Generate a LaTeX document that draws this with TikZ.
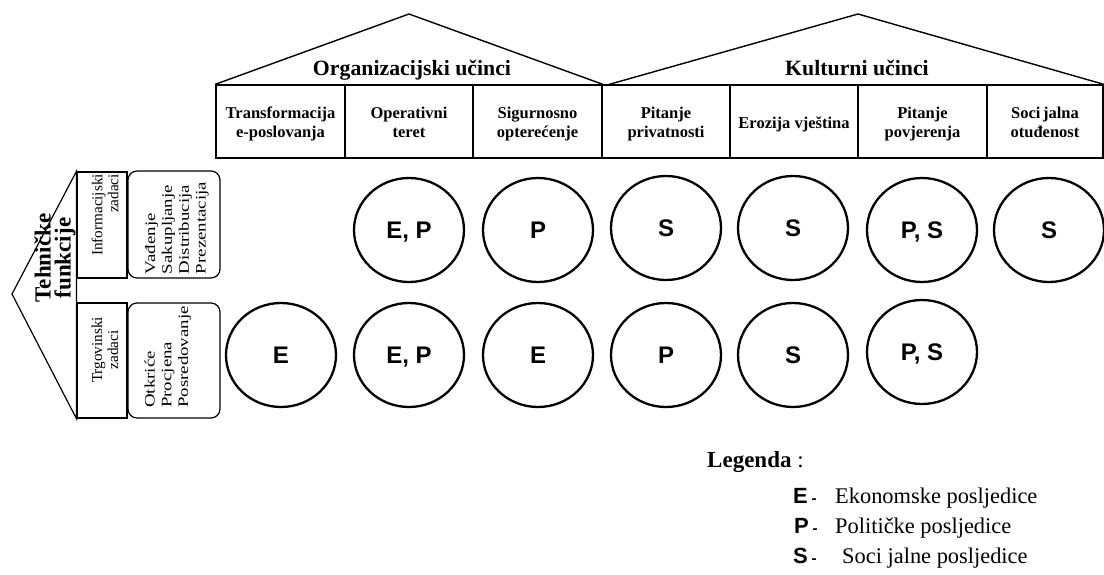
\documentclass[tikz,border=0pt]{standalone}
\usepackage{fontspec}
\setmainfont{Liberation Serif}
\setsansfont{Liberation Sans}
\usetikzlibrary{shapes.geometric}
\begin{document}
\begin{tikzpicture}[x=1pt,y=-1pt,
  cell/.style={draw, line width=1.4pt, minimum height=73pt, inner sep=0pt},
  hdr/.style={anchor=base, inner sep=0pt, align=center,
    font=\fontsize{16.5}{19}\selectfont\bfseries},
  eff/.style={draw, ellipse, line width=2.3pt, minimum width=110pt, minimum height=104pt,
    inner sep=0pt, text height=17.2pt, text depth=0pt,
    font=\fontsize{24}{28}\selectfont\sffamily\bfseries},
  ttl/.style={font=\fontsize{21.8}{24}\selectfont\bfseries, anchor=base},
  roof/.style={line width=1.4pt, line join=miter},
  tbox/.style={draw, line width=1.2pt, inner sep=0pt, minimum width=50pt},
  rbox/.style={draw, line width=1.2pt, inner sep=0pt, minimum width=92pt, rounded corners=9pt},
  rtext/.style={rotate=90, inner sep=0pt, font=\fontsize{15.2}{16}\selectfont},
  legl/.style={anchor=base west, inner sep=0pt, font=\fontsize{22}{26}\selectfont\sffamily\bfseries},
  legt/.style={anchor=base west, inner sep=0pt, font=\fontsize{22.4}{25}\selectfont}
]
\useasboundingbox (0,0) rectangle (1104,574);

% header cells
\node[cell, minimum width=129pt] (h1) at (280.5,121.5) {};
\node[cell, minimum width=128pt] (h2) at (409,121.5) {};
\node[cell, minimum width=129pt] (h3) at (537.5,121.5) {};
\node[cell, minimum width=128pt] (h4) at (666,121.5) {};
\node[cell, minimum width=128pt] (h5) at (794,121.5) {};
\node[cell, minimum width=129pt] (h6) at (922.5,121.5) {};
\node[cell, minimum width=116pt] (h7) at (1045,121.5) {};
\node[hdr] (x1) at (280.5,137) {Transformacija\\e-poslovanja};
\node[hdr] (x2) at (409,137) {Operativni\\teret};
\node[hdr] (x3) at (537.5,137) {Sigurnosno\\optere\'cenje};
\node[hdr] (x4) at (666,137) {Pitanje\\privatnosti};
\node[hdr] (x5) at (794,128) {Erozija vje\v{s}tina};
\node[hdr] (x6) at (922.5,137) {Pitanje\\povjerenja};
\node[hdr] (x7) at (1045,137) {Soci\,jalna\\otu\dj enost};

% roofs
\coordinate (p1) at (409,14);
\coordinate (p2) at (858,14);
\coordinate (k1) at (607,85);
\draw[roof] (h1.north west) -- (p1) -- (h3.north east);
\draw[roof] (k1) -- (p2) -- (h7.north east);
\node[ttl] (t1) at (412,75) {Organizacijski u\v{c}inci};
\node[ttl] (t2) at (857,75) {Kulturni u\v{c}inci};

% left side
\node[tbox, minimum height=106pt] (ib) at (102,225) {};
\node[tbox, minimum height=115pt] (tb) at (102,360.5) {};
\node[rbox, minimum height=107pt] (ir) at (174,224.5) {};
\node[rbox, minimum height=115pt] (tr) at (174,360.5) {};
\coordinate (tp) at (12,294);
\draw[line width=1.2pt] (ib.north west) -- (tp) -- (tb.south west) -- cycle;
\node[rtext, font=\fontsize{23}{20}\selectfont\bfseries, align=center] (tf) at (55,258) {Tehni\v{c}ke\\funkcije};
\node[rtext, align=right] (it) at (105,215) {Informacijski\\zadaci};
\node[rtext, align=center] (tt) at (105,350) {Trgovinski\\zadaci};
\node[rtext, font=\fontsize{14.5}{16.8}\selectfont] (iv) at (177,228) {\scalebox{1.3}[1]{\begin{tabular}{@{}l@{}}Va\dj enje\\Sakupljanje\\Distribucija\\Prezentacija\end{tabular}}};
\node[rtext, font=\fontsize{14.5}{16.8}\selectfont] (tv) at (168,357) {\scalebox{1.3}[1]{\begin{tabular}{@{}l@{}}Otkri\'ce\\Procjena\\Posredovanje\end{tabular}}};

% effects
\node[eff] (a2) at (409,230) {E, P};
\node[eff] (a3) at (538,230) {P};
\node[eff] (a4) at (666,228) {S};
\node[eff] (a5) at (793,228) {S};
\node[eff] (a6) at (922,230) {P, S};
\node[eff] (a7) at (1049,230) {S};
\node[eff] (b1) at (281,355) {E};
\node[eff] (b2) at (409,355) {E, P};
\node[eff] (b3) at (538,355) {E};
\node[eff] (b4) at (666,355) {P};
\node[eff] (b5) at (793,355) {S};
\node[eff] (b6) at (922,352) {P, S};

% legend
\node[anchor=base west, inner sep=0pt, font=\fontsize{23}{26}\selectfont] (lg) at (707,467) {\textbf{Legenda} :};
\node[legl] (le) at (793,503) {E\,{\fontsize{15}{15}\selectfont -}};
\node[legt] (lte) at (835,503) {Ekonomske posljedice};
\node[legl] (lp) at (794,533) {P\,{\fontsize{15}{15}\selectfont -}};
\node[legt] (ltp) at (835,533) {Politi\v{c}ke posljedice};
\node[legl] (ls) at (793,563) {S\,{\fontsize{15}{15}\selectfont -}};
\node[legt] (lts) at (842,563) {Soci jalne posljedice};
\end{tikzpicture}
\end{document}
